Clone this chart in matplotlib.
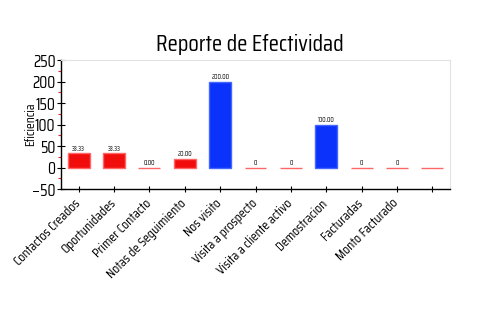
import matplotlib
matplotlib.use("Agg")
import matplotlib.pyplot as plt
from matplotlib.ticker import MultipleLocator
from matplotlib.transforms import ScaledTranslation

plt.rcParams['font.family'] = ['Saira Condensed', 'DejaVu Sans']

categories = ["Contactos Creados", "Oportunidades", "Primer Contacto",
              "Notas de Seguimiento", "Nos visito", "Visita a prospecto",
              "Visita a cliente activo", "Demostracion", "Facturadas",
              "Monto Facturado", ""]
values = [33.33, 33.33, 0.0, 20.0, 200.0, 0, 0, 100.0, 0, 0, 0]
value_labels = ["33.33", "33.33", "0.00", "20.00", "200.00", "0", "0",
                "100.00", "0", "0", ""]
bar_kind = ["r", "r", "r", "r", "b", "r", "r", "b", "r", "r", "r"]

face = {"r": "#f20d0d", "b": "#0a32fa"}
edge = {"r": "#ff6666", "b": "#4466ff"}

fig = plt.figure(figsize=(5, 3.3), dpi=100)
ax = fig.add_axes([0.122, 0.427, 0.778, 0.391])

x = list(range(len(categories)))
for xi, v, k in zip(x, values, bar_kind):
    ax.bar(xi, v, width=0.62, color=face[k], edgecolor=edge[k], linewidth=1.0)

for xi, v, lab in zip(x, values, value_labels):
    if lab:
        ax.text(xi, v + 4, lab, ha="center", va="bottom", fontsize=5)

ax.set_xlim(-0.5, 10.5)
ax.set_ylim(-50, 250)
ax.yaxis.set_major_locator(MultipleLocator(50))
ax.yaxis.set_minor_locator(MultipleLocator(25))
ax.tick_params(axis="y", which="major", direction="inout", length=6, width=0.8,
               labelsize=12, pad=1)
ax.tick_params(axis="y", which="minor", direction="out", length=2.5, width=0.8,
               color="#ee2222")
ax.set_xticks(x)
ax.set_xticklabels(categories, rotation=45, ha="right", rotation_mode="anchor",
                   fontsize=9.8)
ax.tick_params(axis="x", direction="inout", length=5, width=0.8, pad=3)
shift = ScaledTranslation(-0.05, 0, fig.dpi_scale_trans)
for lbl in ax.get_xticklabels():
    lbl.set_transform(lbl.get_transform() + shift)

for side in ("top", "right"):
    ax.spines[side].set_color("#e2e2e2")
for side in ("left", "bottom"):
    ax.spines[side].set_color("black")
    ax.spines[side].set_linewidth(1.0)

ax.set_ylabel("Eficiencia", fontsize=9.5)
ax.yaxis.set_label_coords(-0.062, 0.5)
fig.text(0.5, 0.865, "Reporte de Efectividad", ha="center", va="center",
         fontsize=17)

fig.savefig("out.png", dpi=100)
